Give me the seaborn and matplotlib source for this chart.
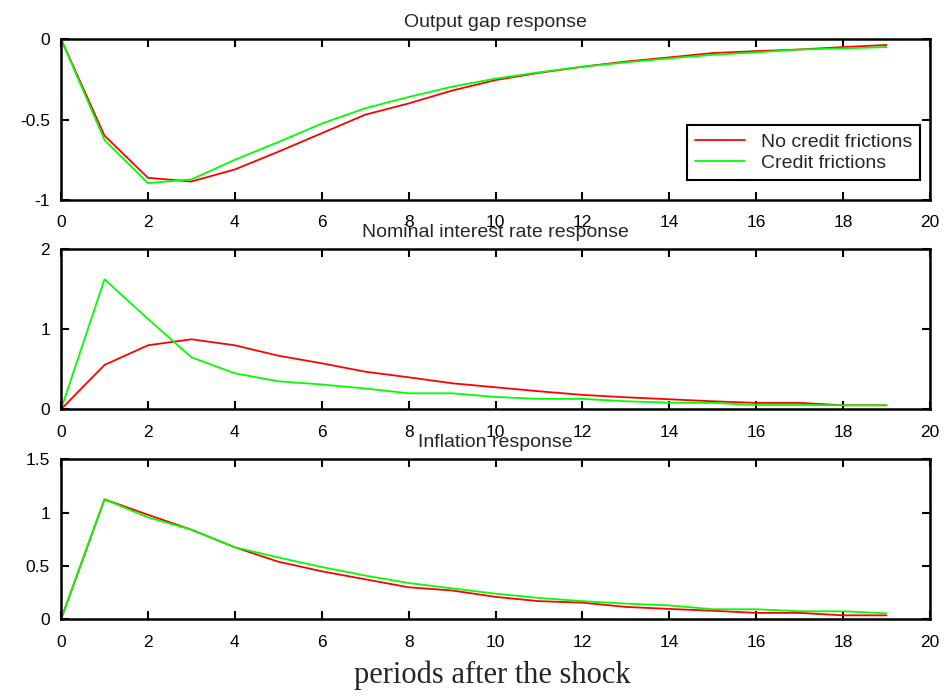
"""
Impulse responses: output gap, nominal interest rate and inflation
with and without credit frictions
"""

import pandas as pd
import numpy as np
import matplotlib
matplotlib.use('Agg')
import matplotlib.pyplot as plt
import seaborn as sns

sns.set_style('ticks')
plt.rcParams['font.family'] = ['Liberation Sans', 'DejaVu Sans']

# Data
periods = list(range(20))

output_no_cf = [0, -0.60, -0.862, -0.885, -0.81, -0.70, -0.585, -0.47, -0.40, -0.32,
                -0.255, -0.21, -0.172, -0.14, -0.114, -0.087, -0.075, -0.065, -0.05, -0.037]
output_cf = [0, -0.627, -0.895, -0.872, -0.75, -0.64, -0.525, -0.43, -0.36, -0.296,
             -0.246, -0.207, -0.172, -0.145, -0.12, -0.098, -0.083, -0.065, -0.058, -0.05]

rate_no_cf = [0, 0.554, 0.80, 0.875, 0.80, 0.67, 0.575, 0.47, 0.40, 0.325,
              0.275, 0.225, 0.18, 0.15, 0.125, 0.10, 0.08, 0.08, 0.05, 0.05]
rate_cf = [0, 1.625, 1.13, 0.65, 0.45, 0.35, 0.31, 0.26, 0.20, 0.20,
           0.154, 0.13, 0.13, 0.10, 0.083, 0.08, 0.054, 0.054, 0.05, 0.05]

infl_no_cf = [0, 1.125, 0.98, 0.84, 0.675, 0.54, 0.45, 0.375, 0.30, 0.27,
              0.21, 0.17, 0.156, 0.116, 0.097, 0.08, 0.06, 0.06, 0.037, 0.037]
infl_cf = [0, 1.125, 0.956, 0.84, 0.675, 0.58, 0.49, 0.41, 0.34, 0.29,
           0.24, 0.20, 0.17, 0.147, 0.13, 0.094, 0.094, 0.075, 0.075, 0.056]

scenarios = ['No credit frictions', 'Credit frictions']
colors = {'No credit frictions': '#ff0000', 'Credit frictions': '#00ff00'}

panels = [
    ('Output gap response', output_no_cf, output_cf, (-1, 0), [-1, -0.5, 0], ['-1', '-0.5', '0']),
    ('Nominal interest rate response', rate_no_cf, rate_cf, (0, 2), [0, 1, 2], ['0', '1', '2']),
    ('Inflation response', infl_no_cf, infl_cf, (0, 1.5), [0, 0.5, 1, 1.5], ['0', '0.5', '1', '1.5']),
]

# axes boxes in figure fraction (left, bottom, width, height)
boxes = [
    (0.0646, 0.713, 0.9196, 0.231),
    (0.0646, 0.4128, 0.9196, 0.2295),
    (0.0646, 0.1115, 0.9196, 0.2295),
]

fig = plt.figure(figsize=(9.45, 6.97), dpi=100)

for i, (title, no_cf, cf, ylim, yticks, ylabels) in enumerate(panels):
    ax = fig.add_axes(boxes[i])
    df = pd.DataFrame({
        'period': periods * 2,
        'value': no_cf + cf,
        'scenario': [scenarios[0]] * len(periods) + [scenarios[1]] * len(periods),
    })
    sns.lineplot(data=df, x='period', y='value', hue='scenario', palette=colors,
                 hue_order=scenarios, linewidth=1.3, ax=ax, legend=(i == 0))

    ax.set_xlim(0, 20)
    ax.set_ylim(*ylim)
    ax.set_xticks(range(0, 21, 2))
    ax.set_yticks(yticks)
    ax.set_yticklabels(ylabels)
    ax.set_xlabel('')
    ax.set_ylabel('')
    ax.set_title(title, fontsize=14, pad=9)

    for side in ['top', 'right', 'bottom', 'left']:
        ax.spines[side].set_visible(True)
        ax.spines[side].set_linewidth(1.8)
        ax.spines[side].set_color('black')
    ax.tick_params(direction='in', length=6, width=1.5, top=True, right=True,
                   labelsize=12.5, colors='black')
    ax.tick_params(axis='x', pad=11)
    ax.tick_params(axis='y', pad=8)

    if i == 0:
        leg = ax.legend(loc='lower right', bbox_to_anchor=(0.9885, 0.124),
                        fontsize=14, frameon=True, fancybox=False,
                        handlelength=2.6, handletextpad=0.8, borderpad=0.4,
                        labelspacing=0.2, borderaxespad=0)
        leg.get_frame().set_edgecolor('black')
        leg.get_frame().set_linewidth(1.5)
        leg.get_frame().set_alpha(1)
        for line in leg.get_lines():
            line.set_linewidth(1.3)

fig.text(0.521, 0.020, 'periods after the shock', ha='center', va='baseline',
         fontsize=22, family=['Liberation Serif', 'DejaVu Serif'])

plt.savefig('out.png', dpi=100)
